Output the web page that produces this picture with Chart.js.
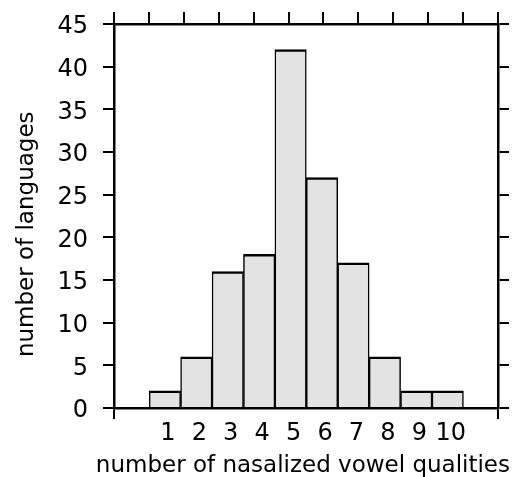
<!DOCTYPE html>
<html>
<head>
<meta charset="utf-8">
<script src="https://cdn.jsdelivr.net/npm/chart.js@4"></script>
<style>
  html, body { margin: 0; padding: 0; background: #fff; }
  canvas { display: block; }
</style>
</head>
<body>
<canvas id="histChart" width="513" height="477"></canvas>
<script>
// histogram data
const vowelQualities = [1, 2, 3, 4, 5, 6, 7, 8, 9, 10];
const languageCounts = [2, 6, 16, 18, 42, 27, 17, 6, 2, 2];
const yTickValues = [0, 5, 10, 15, 20, 25, 30, 35, 40, 45];
const xTitle = 'number of nasalized vowel qualities';
const yTitle = 'number of languages';

// x range leaves an empty slot either side of the bars
const xMin = -0.62;
const xMax = 11.6;

Chart.defaults.font.family = '"DejaVu Sans", Verdana, sans-serif';
Chart.defaults.font.size = 24;
Chart.defaults.color = '#000';

const titleFont = { size: 23, weight: 'normal' };
const tickGrid = {
  drawOnChartArea: false,
  color: '#000',
  lineWidth: 2,
  tickLength: 11,
  offset: false
};
const axisBorder = { color: '#000', width: 2.5 };

function endsOnly(ctx) {
  const n = ctx.scale.ticks.length;
  return (ctx.index === 0 || ctx.index === n - 1) ? '#000' : 'rgba(0,0,0,0)';
}

const ctx = document.getElementById('histChart').getContext('2d');
new Chart(ctx, {
  type: 'bar',
  data: {
    datasets: [{
      data: vowelQualities.map((q, i) => ({ x: q, y: languageCounts[i] })),
      backgroundColor: '#e3e3e3',
      borderColor: '#000',
      borderWidth: { top: 2.5, left: 1.5, right: 1.5, bottom: 0 },
      borderSkipped: false,
      barPercentage: 1,
      categoryPercentage: 1
    }]
  },
  options: {
    responsive: false,
    animation: false,
    layout: { padding: { left: 0, top: 0, right: 3, bottom: 0 } },
    plugins: {
      legend: { display: false },
      tooltip: { enabled: false },
      // x-axis title drawn as a chart title so it is not squeezed to the plot width
      title: {
        display: true,
        position: 'bottom',
        align: 'end',
        text: xTitle,
        color: '#000',
        font: titleFont,
        padding: { top: 3, bottom: -3 }
      }
    },
    scales: {
      x: {
        type: 'linear',
        position: 'bottom',
        min: xMin,
        max: xMax,
        offset: false,
        afterBuildTicks: (scale) => {
          scale.ticks = [xMin, ...vowelQualities, xMax].map(v => ({ value: v }));
        },
        ticks: {
          autoSkip: false,
          maxRotation: 0,
          padding: 0,
          labelOffset: 3,
          callback: (v) => vowelQualities.includes(v) ? String(v) : ''
        },
        grid: Object.assign({}, tickGrid, { color: endsOnly }),
        border: axisBorder,
        afterFit: (scale) => {
          scale.height = 41.4;
          scale.paddingLeft = 0;
          scale.paddingRight = 0;
        }
      },
      x2: {
        type: 'linear',
        position: 'top',
        min: 0,
        max: 11,
        offset: false,
        ticks: { display: false, stepSize: 1 },
        grid: Object.assign({}, tickGrid, { tickLength: 12 }),
        border: axisBorder,
        afterFit: (scale) => { scale.height = 24; }
      },
      y: {
        position: 'left',
        min: 0,
        max: 45,
        afterBuildTicks: (scale) => {
          scale.ticks = yTickValues.map(v => ({ value: v }));
        },
        ticks: { padding: 15, labelOffset: 3 },
        grid: tickGrid,
        border: axisBorder,
        // trailing spaces nudge the rotated title down, as in the original
        title: { display: true, text: yTitle + '     ', font: titleFont, padding: { top: 13, bottom: 0 } },
        afterFit: (scale) => {
          scale.width = 114;
          scale.paddingTop = 0;
          scale.paddingBottom = 0;
        }
      },
      y2: {
        position: 'right',
        min: 0,
        max: 45,
        afterBuildTicks: (scale) => {
          scale.ticks = yTickValues.map(v => ({ value: v }));
        },
        ticks: { display: false },
        grid: tickGrid,
        border: axisBorder,
        afterFit: (scale) => { scale.width = 12; }
      }
    }
  }
});
</script>
</body>
</html>
